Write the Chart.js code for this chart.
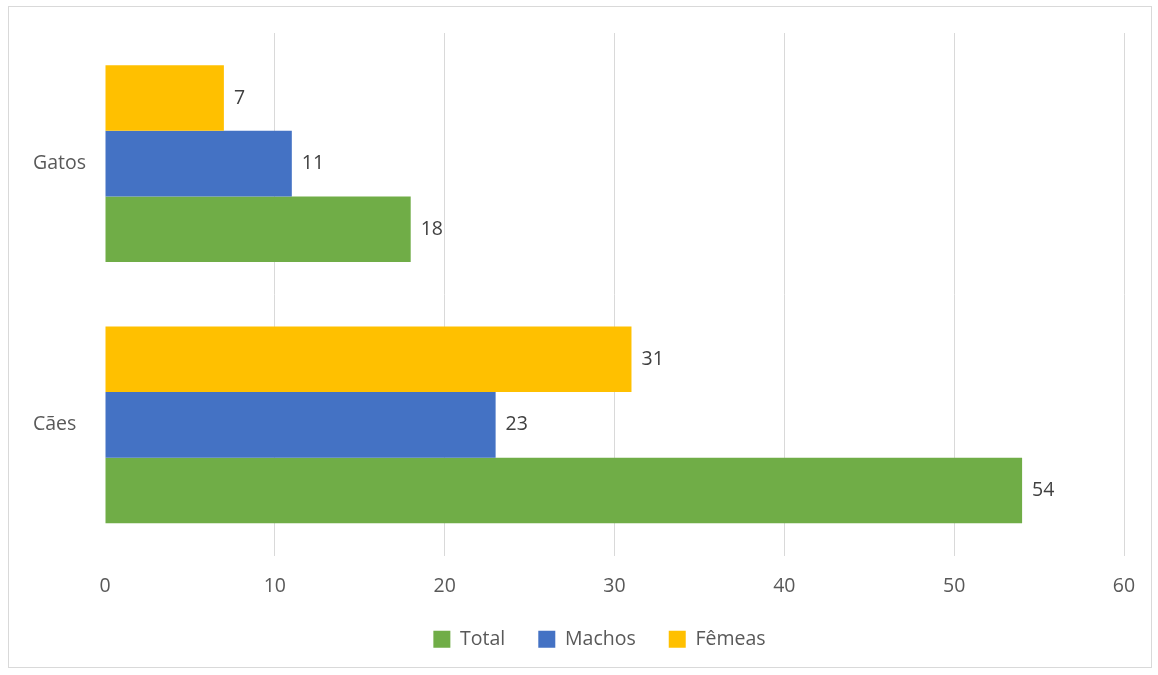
<!DOCTYPE html>
<html>
<head>
<meta charset="utf-8">
<script src="https://cdn.jsdelivr.net/npm/chart.js@4"></script>
<style>
html,body{margin:0;padding:0;background:#fff;}
#wrap{position:absolute;left:0;top:0;width:1158px;height:675px;}
</style>
</head>
<body>
<div id="wrap"><canvas id="c" width="1158" height="675"></canvas></div>
<script>
const categories = ['Gatos', 'Cães'];
const femeas = [7, 31];
const machos = [11, 23];
const total = [18, 54];
const xTicks = [0, 10, 20, 30, 40, 50, 60];

const FONT = '"Open Sans", "DejaVu Sans", sans-serif';

const borderPlugin = {
  id: 'frame',
  beforeDraw(chart) {
    const ctx = chart.ctx;
    ctx.save();
    ctx.fillStyle = '#fff';
    ctx.fillRect(0, 0, chart.width, chart.height);
    ctx.strokeStyle = '#d9d9d9';
    ctx.lineWidth = 1;
    ctx.strokeRect(8.5, 6.5, 1143, 661);
    ctx.restore();
  }
};

const legendShift = {
  id: 'legendShift',
  afterLayout(chart) {
    if (chart.legend) {
      chart.legend.left += 21;
      chart.legend.right += 21;
    }
  }
};

const labelPlugin = {
  id: 'vals',
  afterDatasetsDraw(chart) {
    const ctx = chart.ctx;
    ctx.save();
    ctx.font = '19.5px ' + FONT;
    ctx.fillStyle = '#404040';
    ctx.textAlign = 'left';
    ctx.textBaseline = 'middle';
    chart.data.datasets.forEach((ds, i) => {
      const meta = chart.getDatasetMeta(i);
      if (meta.hidden) return;
      meta.data.forEach((el, j) => {
        ctx.fillText(String(ds.data[j]), el.x + 10, el.y);
      });
    });
    ctx.restore();
  }
};

new Chart(document.getElementById('c'), {
  type: 'bar',
  data: {
    labels: categories,
    datasets: [
      { label: 'Fêmeas', data: femeas, backgroundColor: '#FFC000' },
      { label: 'Machos', data: machos, backgroundColor: '#4472C4' },
      { label: 'Total', data: total, backgroundColor: '#70AD47' }
    ]
  },
  options: {
    indexAxis: 'y',
    responsive: false,
    animation: false,
    categoryPercentage: 0.754,
    barPercentage: 1.0,
    layout: { padding: { left: 33, right: 34, top: 33, bottom: 16 } },
    plugins: {
      legend: {
        position: 'bottom',
        reverse: true,
        labels: {
          boxWidth: 17, boxHeight: 17, padding: 33,
          color: '#595959',
          font: { size: 19.5, family: FONT }
        }
      },
      tooltip: { enabled: false }
    },
    scales: {
      x: {
        min: 0, max: 60,
        afterBuildTicks(scale) { scale.ticks = xTicks.map(v => ({ value: v })); },
        afterFit(scale) { scale.height = 41; },
        grid: {
          color: ctx => (ctx.tick && ctx.tick.value === 0) ? 'rgba(0,0,0,0)' : '#d9d9d9',
          drawTicks: false,
          lineWidth: 1
        },
        border: { display: false },
        ticks: {
          color: '#595959',
          padding: 19,
          font: { size: 19.5, family: FONT }
        }
      },
      y: {
        afterFit(scale) { scale.width = 72; },
        grid: { display: false },
        border: { display: false },
        ticks: {
          color: '#595959',
          crossAlign: 'far',
          font: { size: 19.5, family: FONT }
        }
      }
    }
  },
  plugins: [borderPlugin, legendShift, labelPlugin]
});
</script>
</body>
</html>
